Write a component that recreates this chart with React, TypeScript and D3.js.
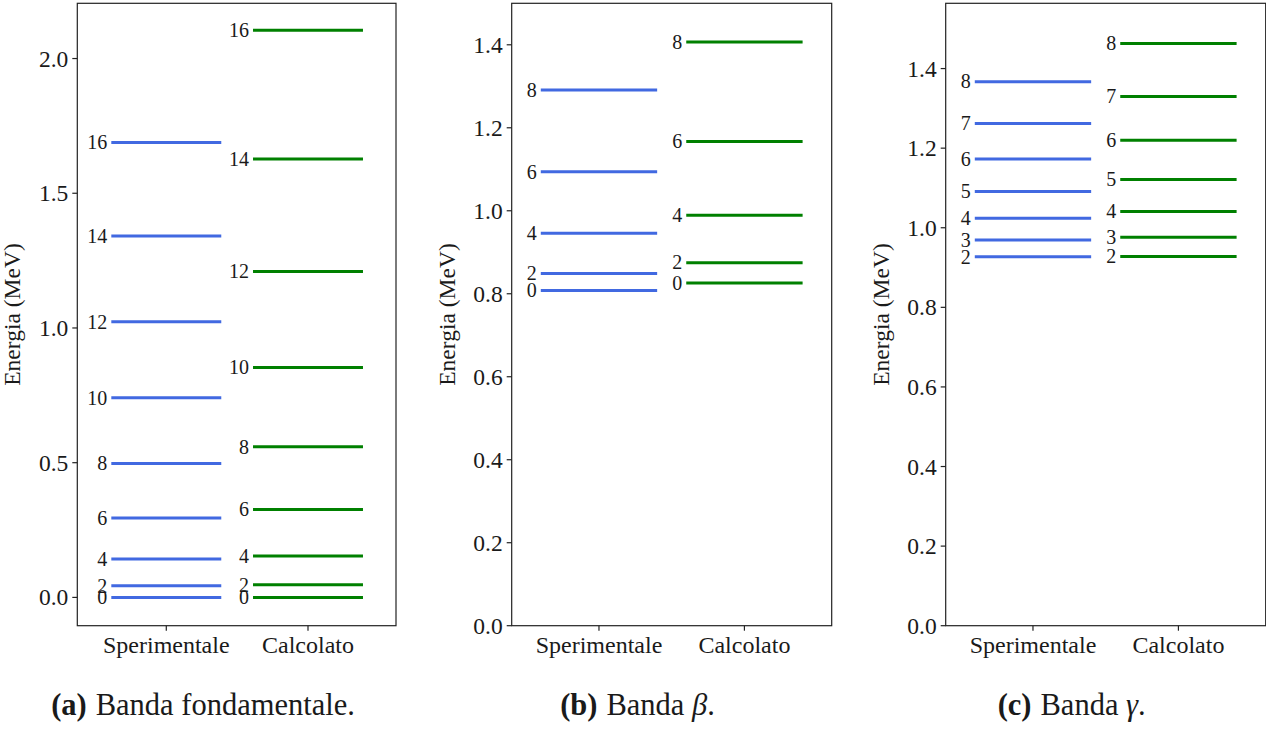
import React from "react";
import * as d3 from "d3";

const categories = ["Sperimentale", "Calcolato"];

// Panel (a) Banda fondamentale
const spinsA = [0, 2, 4, 6, 8, 10, 12, 14, 16];
const expA = [0, 0.043, 0.143, 0.295, 0.497, 0.741, 1.023, 1.341, 1.688];
const calcA = [0, 0.047, 0.154, 0.326, 0.559, 0.853, 1.21, 1.627, 2.105];
const ticksA = [0.0, 0.5, 1.0, 1.5, 2.0];

// Panel (b) Banda beta
const spinsB = [0, 2, 4, 6, 8];
const expB = [0.808, 0.849, 0.946, 1.094, 1.291];
const calcB = [0.826, 0.875, 0.989, 1.167, 1.407];
const ticksB = [0.0, 0.2, 0.4, 0.6, 0.8, 1.0, 1.2, 1.4];

// Panel (c) Banda gamma
const spinsC = [2, 3, 4, 5, 6, 7, 8];
const expC = [0.927, 0.969, 1.024, 1.091, 1.173, 1.262, 1.367];
const calcC = [0.928, 0.976, 1.041, 1.121, 1.22, 1.33, 1.463];
const ticksC = [0.0, 0.2, 0.4, 0.6, 0.8, 1.0, 1.2, 1.4];

const FONT = "'Liberation Serif', 'DejaVu Serif', serif";
const TXT = "#1a1a1a";
const BLUE = "#4169E1";
const GREEN = "#008000";

type PanelProps = {
  left: number;
  width: number;
  xDomain: [number, number];
  half: number;
  spins: number[];
  exp: number[];
  calc: number[];
  ticks: number[];
  yDomain: [number, number];
  tag: string;
  caption: React.ReactNode;
  captionCenter: number;
};

const TOP = 3.3;
const BOTTOM = 625.7;

function Panel({ left, width, xDomain, half, spins, exp, calc, ticks, yDomain, tag, caption, captionCenter }: PanelProps) {
  const x = d3.scaleLinear().domain(xDomain).range([left, left + width]);
  const y = d3.scaleLinear().domain(yDomain).range([BOTTOM, TOP]);
  const series = [
    { values: exp, color: BLUE, xi: 0 },
    { values: calc, color: GREEN, xi: 1 },
  ];
  return (
    <g>
      {series.map((s) =>
        s.values.map((v, i) => (
          <g key={`${s.xi}-${i}`}>
            <line
              x1={x(s.xi - half)}
              x2={x(s.xi + half)}
              y1={y(v)}
              y2={y(v)}
              stroke={s.color}
              strokeWidth={3}
            />
            <text
              x={x(s.xi - half) - 4}
              y={y(v)}
              dy="0.34em"
              textAnchor="end"
              fontSize={20}
              fontFamily={FONT}
              fill={TXT}
            >
              {spins[i]}
            </text>
          </g>
        ))
      )}
      <rect
        x={left}
        y={TOP}
        width={width}
        height={BOTTOM - TOP}
        fill="none"
        stroke="#222"
        strokeWidth={1.2}
      />
      {ticks.map((t) => (
        <g key={t}>
          <line x1={left - 5} x2={left} y1={y(t)} y2={y(t)} stroke="#222" strokeWidth={1.2} />
          <text
            x={left - 9}
            y={y(t)}
            dy="0.34em"
            textAnchor="end"
            fontSize={23.5}
            fontFamily={FONT}
            fill={TXT}
          >
            {t.toFixed(1)}
          </text>
        </g>
      ))}
      {categories.map((c, i) => (
        <g key={c}>
          <line x1={x(i)} x2={x(i)} y1={BOTTOM} y2={BOTTOM + 5} stroke="#222" strokeWidth={1.2} />
          <text
            x={x(i)}
            y={653}
            textAnchor="middle"
            fontSize={24}
            fontFamily={FONT}
            fill={TXT}
          >
            {c}
          </text>
        </g>
      ))}
      <text
        transform={`translate(${left - 57},${(TOP + BOTTOM) / 2}) rotate(-90)`}
        textAnchor="middle"
        fontSize={23.5}
        fontFamily={FONT}
        fill={TXT}
      >
        Energia (MeV)
      </text>
      <text
        x={captionCenter}
        y={715}
        textAnchor="middle"
        fontSize={30.5}
        fontFamily={FONT}
        fill={TXT}
      >
        <tspan fontWeight="bold">{tag}</tspan>
        <tspan dx={9}>{caption}</tspan>
      </text>
    </g>
  );
}

export default function App() {
  return (
    <svg
      width={1266}
      height={729}
      style={{ position: "absolute", left: 0, top: 0, background: "#fff" }}
    >
      <rect x={0} y={0} width={1266} height={729} fill="#fff" />
      <Panel
        left={77.3}
        width={318.7}
        xDomain={[-0.628, 1.621]}
        half={0.388}
        spins={spinsA}
        exp={expA}
        calc={calcA}
        ticks={ticksA}
        yDomain={[-0.105, 2.205]}
        tag="(a)"
        caption="Banda fondamentale."
        captionCenter={203}
      />
      <Panel
        left={511.7}
        width={320}
        xDomain={[-0.6, 1.6]}
        half={0.4}
        spins={spinsB}
        exp={expB}
        calc={calcB}
        ticks={ticksB}
        yDomain={[0, 1.5]}
        tag="(b)"
        caption={
          <>
            Banda <tspan fontStyle="italic">β</tspan>.
          </>
        }
        captionCenter={637.5}
      />
      <Panel
        left={945.7}
        width={320}
        xDomain={[-0.6, 1.6]}
        half={0.4}
        spins={spinsC}
        exp={expC}
        calc={calcC}
        ticks={ticksC}
        yDomain={[0, 1.564]}
        tag="(c)"
        caption={
          <>
            Banda <tspan fontStyle="italic">γ</tspan>.
          </>
        }
        captionCenter={1071.7}
      />
    </svg>
  );
}
